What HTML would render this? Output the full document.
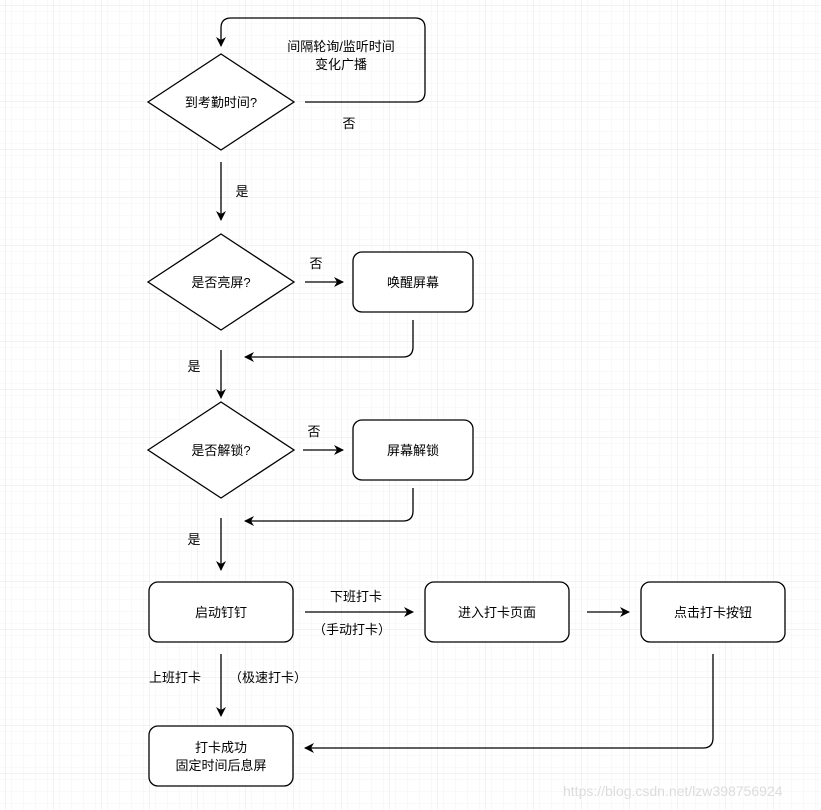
<!DOCTYPE html>
<html><head><meta charset="utf-8"><style>
html,body{margin:0;padding:0;background:#fff}
svg{display:block}
text{font-family:"Liberation Sans","Noto Sans CJK SC",sans-serif;font-size:13px;fill:#000}
</style></head><body>
<svg width="821" height="810" viewBox="0 0 821 810" xmlns="http://www.w3.org/2000/svg">
<defs>
<pattern id="minor" width="12" height="12" patternUnits="userSpaceOnUse" x="6" y="6">
<path d="M12 0V12M0 12H12" fill="none" stroke="#f3f3f3" stroke-width="1"/>
</pattern>
<pattern id="major" width="48" height="48" patternUnits="userSpaceOnUse" x="6" y="6">
<rect width="48" height="48" fill="url(#minor)"/>
<path d="M48 0V48M0 48H48" fill="none" stroke="#e6e6e6" stroke-width="1"/>
</pattern>
<marker id="a" markerWidth="10" markerHeight="10" refX="9" refY="5" orient="auto" markerUnits="userSpaceOnUse">
<path d="M0,0 L10,5 L0,10 L3,5 Z" fill="#000"/>
</marker>
</defs>
<rect width="821" height="810" fill="url(#major)"/>
<g fill="#fff" stroke="#000" stroke-width="1.3">
<polygon points="148,102 221,54 294,102 221,150"/>
<polygon points="148,282 221,234 294,282 221,330"/>
<polygon points="148,450 221,402 294,450 221,498"/>
<rect x="353" y="252" width="120" height="60" rx="9"/>
<rect x="353" y="420" width="120" height="60" rx="9"/>
<rect x="149" y="582" width="144" height="60" rx="9"/>
<rect x="425" y="582" width="144" height="60" rx="9"/>
<rect x="641" y="582" width="144" height="60" rx="9"/>
<rect x="149" y="726" width="144" height="60" rx="9"/>
</g>
<g fill="none" stroke="#000" stroke-width="1.3" marker-end="url(#a)">
<path d="M305,102 H415 Q425,102 425,92 V28 Q425,18 415,18 H231 Q221,18 221,28 V46"/>
<path d="M221,162 V220"/>
<path d="M305,282 H343"/>
<path d="M413,320 V347 Q413,357 403,357 H245"/>
<path d="M221,350 V398"/>
<path d="M303,450 H343"/>
<path d="M413,488 V511 Q413,521 403,521 H245"/>
<path d="M221,518 V570"/>
<path d="M305,612 H413"/>
<path d="M587,612 H629"/>
<path d="M713,654 V738 Q713,748 703,748 H305"/>
<path d="M221,654 V716"/>
</g>
<g text-anchor="middle">
<text x="341" y="51">间隔轮询/监听时间</text>
<text x="341" y="69">变化广播</text>
<text x="221" y="107">到考勤时间?</text>
<text x="349" y="128">否</text>
<text x="242" y="196">是</text>
<text x="221" y="287">是否亮屏?</text>
<text x="316" y="268">否</text>
<text x="413" y="287">唤醒屏幕</text>
<text x="194" y="371">是</text>
<text x="221" y="455">是否解锁?</text>
<text x="314" y="436">否</text>
<text x="413" y="455">屏幕解锁</text>
<text x="194" y="544">是</text>
<text x="221" y="617">启动钉钉</text>
<text x="356" y="601">下班打卡</text>
<text x="352" y="634">（手动打卡）</text>
<text x="497" y="617">进入打卡页面</text>
<text x="713" y="617">点击打卡按钮</text>
<text x="175" y="682">上班打卡</text>
<text x="268" y="682">（极速打卡）</text>
<text x="221" y="752">打卡成功</text>
<text x="221" y="770">固定时间后息屏</text>
</g>
<text x="563" y="796" style="font-size:14px;fill:#dcdcdc">https://blog.csdn.net/lzw398756924</text>
</svg>
</body></html>
